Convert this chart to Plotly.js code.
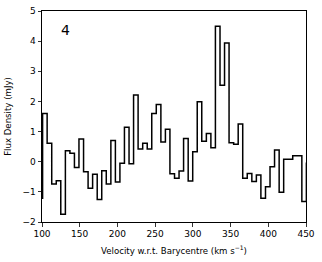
<!DOCTYPE html>
<html>
<head>
<meta charset="utf-8">
<script src="https://cdn.plot.ly/plotly-3.0.1.min.js"></script>
<style>html,body{margin:0;padding:0;background:#fff;}#chart{width:322px;height:262px;}</style>
</head>
<body>
<div id="chart"></div>
<script>
// Left edge of each velocity channel (km/s)
var channelStart = [94.8, 100.8, 106.8, 112.9, 118.9, 124.9, 131.0, 137.0, 143.0, 149.0,
  155.1, 161.1, 167.1, 173.2, 179.2, 185.2, 191.3, 197.3, 203.3, 209.3,
  215.4, 221.4, 227.4, 233.5, 239.5, 245.5, 251.5, 257.6, 263.6, 269.6,
  275.7, 281.7, 287.7, 293.8, 299.8, 305.8, 311.8, 317.9, 323.9, 329.9,
  336.0, 342.0, 348.0, 354.1, 360.1, 366.1, 372.1, 378.2, 384.2, 390.2,
  396.3, 402.3, 408.3, 414.4, 420.4, 426.4, 432.4, 438.5, 444.5, 450.5];
var channelEnd = 456.6;
// Flux density per channel (mJy)
var flux = [-1.21, 1.60, 0.61, -0.74, -0.63, -1.74, 0.36, 0.28, -0.19, 0.75,
  -0.33, -0.88, -0.42, -1.25, -0.30, -0.74, 0.70, -0.67, -0.05, 1.14,
  -0.07, 2.21, 0.42, 0.61, 0.42, 1.60, 1.90, 0.65, 1.08, -0.40,
  -0.55, -0.31, 0.77, -0.64, 0.33, 1.99, 0.68, 0.94, 0.46, 4.49,
  2.54, 3.94, 0.63, 0.58, 1.25, -0.55, -0.39, -0.66, -0.44, -1.21,
  -0.83, -0.17, 0.39, -1.01, 0.08, 0.08, 0.20, 0.20, -1.32, -0.05];
var xTicks = [100, 150, 200, 250, 300, 350, 400, 450];
var yTicks = [-2, -1, 0, 1, 2, 3, 4, 5];
var panelLabel = "4";

var xs = channelStart.concat([channelEnd]);
var ys = flux.concat([flux[flux.length - 1]]);

var tickFont = {family: "DejaVu Sans, sans-serif", size: 9, color: "#000"};
var titleFont = {family: "DejaVu Sans, sans-serif", size: 8.6, color: "#000"};
var axisCommon = {
  showgrid: false, zeroline: false, showline: true, linecolor: "#000", linewidth: 1,
  mirror: true, ticks: "outside", ticklen: 3.5, tickwidth: 0.8, tickcolor: "#000",
  tickfont: tickFont
};
Plotly.newPlot("chart", [{
  x: xs, y: ys, type: "scatter", mode: "lines",
  line: {shape: "hv", color: "#000", width: 1.5},
  hoverinfo: "skip"
}], {
  width: 322, height: 262,
  margin: {l: 42, r: 16, t: 11, b: 40, pad: 0},
  paper_bgcolor: "#fff", plot_bgcolor: "#fff",
  showlegend: false,
  font: tickFont,
  xaxis: Object.assign({}, axisCommon, {
    range: [100, 450], tickvals: xTicks, ticktext: xTicks.map(String),
    title: {text: "Velocity w.r.t. Barycentre (km s<sup>\u22121</sup>)", font: titleFont, standoff: 9}
  }),
  yaxis: Object.assign({}, axisCommon, {
    range: [-2, 5], tickvals: yTicks, ticktext: yTicks.map(function(v){return v < 0 ? "\u2212" + Math.abs(v) : String(v);}),
    title: {text: "Flux Density (mJy)", font: titleFont, standoff: 9}
  }),
  annotations: [{
    text: panelLabel, xref: "paper", yref: "paper", x: 0.088, y: 0.909,
    showarrow: false, font: {family: "DejaVu Sans, sans-serif", size: 14, color: "#000"},
    xanchor: "center", yanchor: "middle"
  }]
}, {staticPlot: true, displayModeBar: false});
</script>
</body>
</html>
